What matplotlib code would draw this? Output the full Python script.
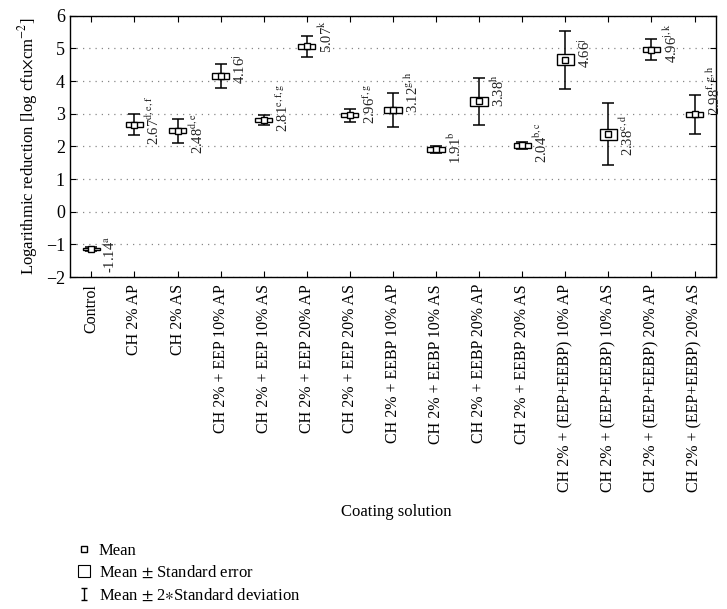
import matplotlib.pyplot as plt
import numpy as np
from matplotlib.lines import Line2D
from matplotlib.path import Path

plt.rcParams['font.family'] = ['Liberation Serif', 'DejaVu Serif']
plt.rcParams['mathtext.fontset'] = 'stix'

# data
categories = ["Control", "CH 2% AP", "CH 2% AS",
              "CH 2% + EEP 10% AP", "CH 2% + EEP 10% AS",
              "CH 2% + EEP 20% AP", "CH 2% + EEP 20% AS",
              "CH 2% + EEBP 10% AP", "CH 2% + EEBP 10% AS",
              "CH 2% + EEBP 20% AP", "CH 2% + EEBP 20% AS",
              "CH 2% + (EEP+EEBP) 10% AP", "CH 2% + (EEP+EEBP) 10% AS",
              "CH 2% + (EEP+EEBP) 20% AP", "CH 2% + (EEP+EEBP) 20% AS"]
means = [-1.14, 2.67, 2.48, 4.16, 2.81, 5.07, 2.96, 3.12, 1.91, 3.38, 2.04, 4.66, 2.38, 4.96, 2.98]
se = [0.04, 0.08, 0.08, 0.08, 0.06, 0.08, 0.06, 0.09, 0.07, 0.13, 0.08, 0.17, 0.17, 0.08, 0.09]
sd2 = [0.06, 0.31, 0.36, 0.37, 0.16, 0.32, 0.20, 0.53, 0.10, 0.71, 0.11, 0.89, 0.95, 0.32, 0.61]
letters = ['a', 'd,e,f', 'd,e', 'j', 'e,f,g', 'k', 'f,g', 'g,h', 'b', 'h', 'b,c', 'j', 'c,d', 'j,k', 'f,g,h']

# where the rotated labels sit (centre, in data units)
label_pos = [-1.31, 2.8, 2.4, 4.36, 3.2, 5.37, 3.3, 3.67, 1.97, 3.72, 2.12, 4.86, 2.33, 5.16, 3.71]

x = np.arange(len(categories))
means = np.array(means)
se = np.array(se)

fig = plt.figure(figsize=(7.27, 6.09), dpi=100)
ax = fig.add_axes([0.096, 0.545, 0.889, 0.429])

# whiskers (mean +/- 2*SD)
ax.errorbar(x, means, yerr=sd2, fmt='none', ecolor='black', elinewidth=1.1,
            capsize=4, capthick=1.1, zorder=3)
# boxes (mean +/- SE)
ax.bar(x, 2 * se, bottom=means - se, width=0.4, facecolor='white',
       edgecolor='black', linewidth=1.0, zorder=4)
# mean
ax.plot(x, means, 's', ms=4, mfc='white', mec='black', mew=1.0, zorder=5)

for xi, m, lt, ly in zip(x, means, letters, label_pos):
    ax.text(xi + 0.45, ly, f'{m:.2f}' + r'$^{\mathrm{' + lt + '}}$', rotation=90,
            ha='center', va='center', fontsize=10.5, color='#222222')

ax.set_xlim(-0.5, len(categories) - 0.5)
ax.set_ylim(-2, 6)
ax.set_yticks(range(-2, 7))
ax.set_yticklabels([str(v).replace('-', '\u2212') for v in range(-2, 7)])
ax.set_xticks(x)
ax.set_xticklabels(categories, rotation=90, fontsize=11.5)
ax.tick_params(axis='y', labelsize=13, direction='in', right=True, length=4)
ax.tick_params(axis='x', direction='in', top=True, length=4, pad=5)
ax.yaxis.grid(True, linestyle=(0, (1, 4)), color='#888888', linewidth=0.9)
ax.set_axisbelow(True)
for s in ax.spines.values():
    s.set_linewidth(1.0)

ax.set_ylabel(r'Logarithmic reduction [log cfu$\times$cm$^{-2}$]', fontsize=12)
fig.text(0.545, 0.160, 'Coating solution', ha='center', va='center', fontsize=12)

# legend
whisk = Path([(-0.5, -1), (0.5, -1), (0, -1), (0, 1), (-0.5, 1), (0.5, 1)],
             [Path.MOVETO, Path.LINETO, Path.MOVETO, Path.LINETO, Path.MOVETO, Path.LINETO])
handles = [
    Line2D([], [], ls='none', marker='s', ms=4, mfc='white', mec='black', mew=1.0),
    Line2D([], [], ls='none', marker='s', ms=8, mfc='white', mec='black', mew=0.8),
    Line2D([], [], ls='none', marker=whisk, ms=8, mec='black', mew=1.0),
]
labels = ['Mean', 'Mean $\\pm$ Standard error', 'Mean $\\pm$ 2$\\ast$Standard deviation']
fig.legend(handles, labels, loc='upper left', bbox_to_anchor=(0.092, 0.122),
           frameon=False, fontsize=12, handlelength=1.0, handletextpad=0.4,
           labelspacing=0.35, borderpad=0)

fig.savefig('out.png', dpi=100)
